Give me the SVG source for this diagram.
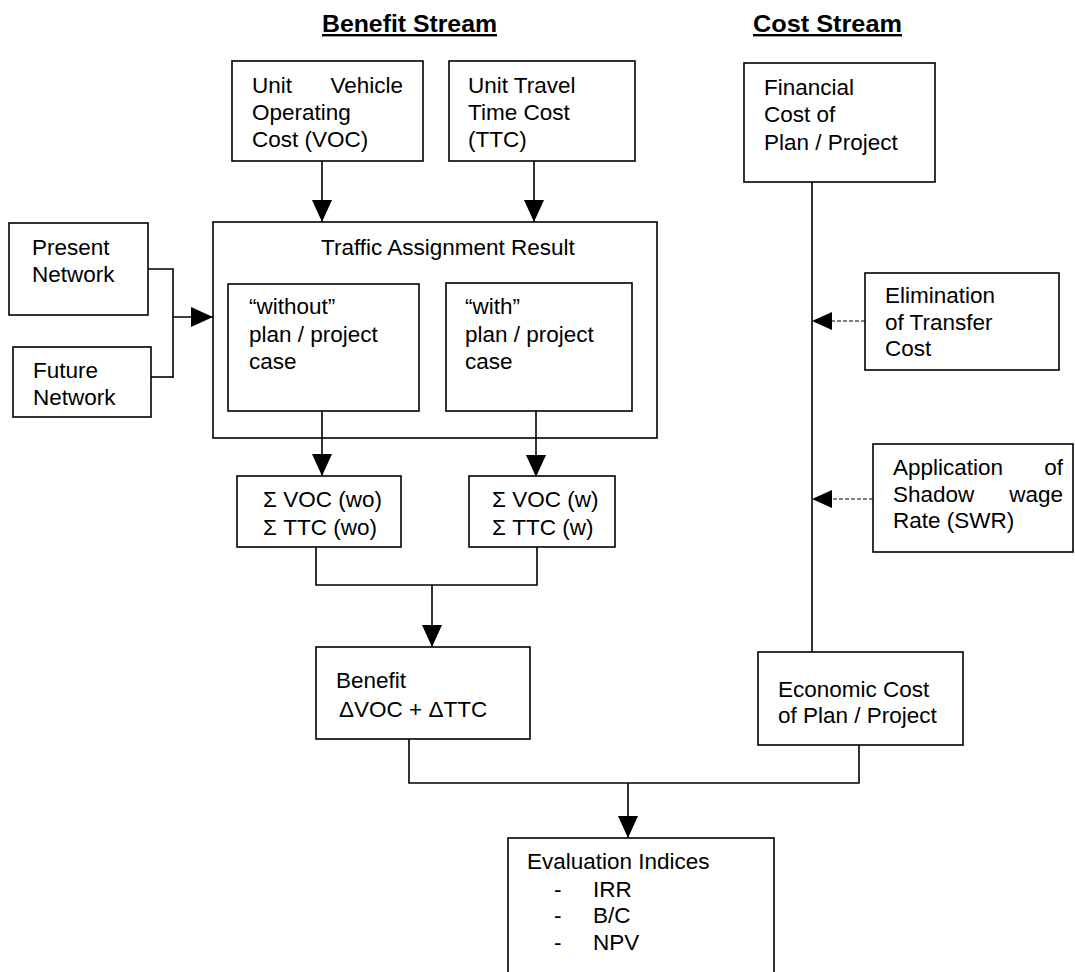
<svg xmlns="http://www.w3.org/2000/svg" width="1075" height="972" viewBox="0 0 1075 972">
<defs>
<marker id="ah" markerUnits="userSpaceOnUse" markerWidth="22" markerHeight="20" refX="22" refY="10" orient="auto">
<path d="M0,0 L22,10 L0,20 Z" fill="#000"/>
</marker>
<style>
.box{fill:none;stroke:#000;stroke-width:1.6}
.t{font-family:"Liberation Sans",Arial,sans-serif;font-size:22.5px;fill:#000}
.h{font-family:"Liberation Sans",Arial,sans-serif;font-size:24px;font-weight:bold;fill:#000;text-decoration:underline}
.c{fill:none;stroke:#000;stroke-width:1.6}
.d{fill:none;stroke:#000;stroke-width:1.2;stroke-dasharray:4,2}
</style>
</defs>
<rect width="1075" height="972" fill="#fff"/>

<g id="headings">
<text class="h" x="322" y="32" textLength="175" lengthAdjust="spacingAndGlyphs">Benefit Stream</text>
<text class="h" x="753" y="32" textLength="149" lengthAdjust="spacingAndGlyphs">Cost Stream</text>
</g>

<g id="connectors">
<line class="c" x1="322" y1="161" x2="322" y2="222" marker-end="url(#ah)"/>
<line class="c" x1="534" y1="161" x2="534" y2="222" marker-end="url(#ah)"/>
<polyline class="c" points="148,269 173,269 173,378"/>
<line class="c" x1="151" y1="377" x2="173" y2="377"/>
<line class="c" x1="173" y1="317" x2="213" y2="317" marker-end="url(#ah)"/>
<line class="c" x1="322" y1="411" x2="322" y2="476" marker-end="url(#ah)"/>
<line class="c" x1="536" y1="411" x2="536" y2="477" marker-end="url(#ah)"/>
<polyline class="c" points="316,547 316,585 537,585 537,547"/>
<line class="c" x1="432" y1="585" x2="432" y2="647" marker-end="url(#ah)"/>
<polyline class="c" points="409,739 409,783 859,783 859,745"/>
<line class="c" x1="628" y1="783" x2="628" y2="838" marker-end="url(#ah)"/>
<line class="c" x1="812" y1="182" x2="812" y2="652"/>
<line class="d" x1="865" y1="321" x2="814" y2="321"/>
<path d="M812,321 L832,312 L832,330 Z" fill="#000"/>
<line class="d" x1="873" y1="499" x2="814" y2="499"/>
<path d="M812,499 L832,490 L832,508 Z" fill="#000"/>
</g>

<g id="unit-voc">
<rect class="box" x="232" y="61" width="191" height="100"/>
<text class="t" y="93"><tspan x="252">Unit</tspan><tspan x="403" text-anchor="end">Vehicle</tspan></text>
<text class="t" x="252" y="120">Operating</text>
<text class="t" x="252" y="147">Cost (VOC)</text>
</g>

<g id="unit-ttc">
<rect class="box" x="449" y="61" width="186" height="100"/>
<text class="t" x="468" y="93">Unit Travel</text>
<text class="t" x="468" y="120">Time Cost</text>
<text class="t" x="468" y="147">(TTC)</text>
</g>

<g id="financial-cost">
<rect class="box" x="744" y="63" width="191" height="119"/>
<text class="t" x="764" y="95">Financial</text>
<text class="t" x="764" y="122">Cost of</text>
<text class="t" x="764" y="150">Plan / Project</text>
</g>

<g id="present-network">
<rect class="box" x="9" y="223" width="139" height="92"/>
<text class="t" x="32" y="255">Present</text>
<text class="t" x="32" y="282">Network</text>
</g>

<g id="future-network">
<rect class="box" x="13" y="347" width="138" height="70"/>
<text class="t" x="33" y="378">Future</text>
<text class="t" x="33" y="405">Network</text>
</g>

<g id="traffic-assignment">
<rect class="box" x="213" y="222" width="444" height="216"/>
<text class="t" x="321" y="255">Traffic Assignment Result</text>
</g>

<g id="without-case">
<rect class="box" x="228" y="284" width="191" height="127"/>
<text class="t" x="249" y="314">“without”</text>
<text class="t" x="249" y="342">plan / project</text>
<text class="t" x="249" y="369">case</text>
</g>

<g id="with-case">
<rect class="box" x="446" y="283" width="186" height="128"/>
<text class="t" x="465" y="314">“with”</text>
<text class="t" x="465" y="342">plan / project</text>
<text class="t" x="465" y="369">case</text>
</g>

<g id="sum-wo">
<rect class="box" x="237" y="476" width="164" height="71"/>
<text class="t" x="263" y="507">Σ VOC (wo)</text>
<text class="t" x="263" y="535">Σ TTC (wo)</text>
</g>

<g id="sum-w">
<rect class="box" x="469" y="476" width="146" height="71"/>
<text class="t" x="492" y="507">Σ VOC (w)</text>
<text class="t" x="492" y="535">Σ TTC (w)</text>
</g>

<g id="benefit">
<rect class="box" x="316" y="647" width="214" height="92"/>
<text class="t" x="336" y="688">Benefit</text>
<text class="t" x="339" y="717">ΔVOC + ΔTTC</text>
</g>

<g id="elimination">
<rect class="box" x="865" y="273" width="194" height="97"/>
<text class="t" x="885" y="303">Elimination</text>
<text class="t" x="885" y="330">of Transfer</text>
<text class="t" x="885" y="356">Cost</text>
</g>

<g id="swr">
<rect class="box" x="873" y="444" width="200" height="108"/>
<text class="t" y="475"><tspan x="893">Application</tspan><tspan x="1063" text-anchor="end">of</tspan></text>
<text class="t" y="502"><tspan x="893">Shadow</tspan><tspan x="1063" text-anchor="end">wage</tspan></text>
<text class="t" x="893" y="528">Rate (SWR)</text>
</g>

<g id="economic-cost">
<rect class="box" x="758" y="652" width="205" height="93"/>
<text class="t" x="778" y="697">Economic Cost</text>
<text class="t" x="778" y="723">of Plan / Project</text>
</g>

<g id="evaluation">
<rect class="box" x="508" y="838" width="266" height="150"/>
<text class="t" x="527" y="869">Evaluation Indices</text>
<text class="t" x="554" y="897">-</text>
<text class="t" x="593" y="897">IRR</text>
<text class="t" x="554" y="923">-</text>
<text class="t" x="593" y="923">B/C</text>
<text class="t" x="554" y="950">-</text>
<text class="t" x="593" y="950">NPV</text>
</g>
</svg>
